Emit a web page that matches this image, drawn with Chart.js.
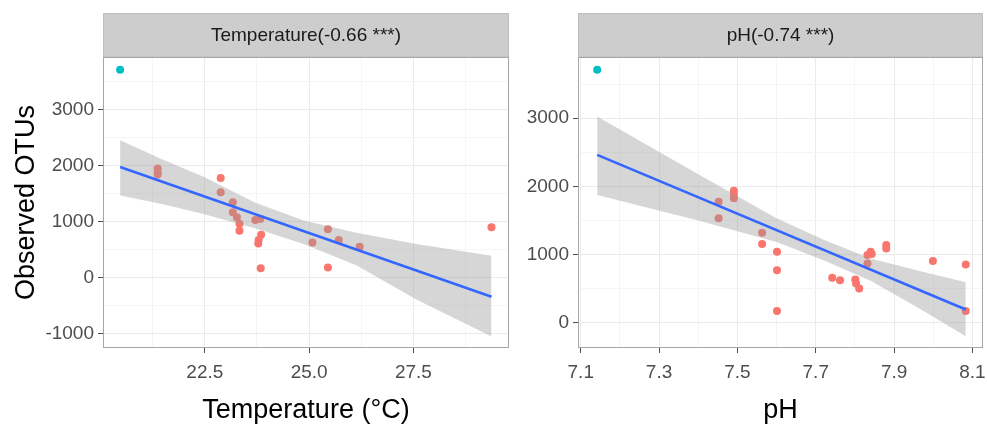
<!DOCTYPE html>
<html>
<head>
<meta charset="utf-8">
<script src="https://cdn.jsdelivr.net/npm/chart.js@4.4.1/dist/chart.umd.min.js"></script>
<style>
  body { margin: 0; background: #fff; }
  .panel { position: absolute; top: 0; height: 433px; }
  #leftBox { left: 0; width: 513px; }
  #rightBox { left: 500px; width: 487px; }
</style>
</head>
<body>
<div class="panel" id="leftBox"><canvas id="tempChart"></canvas></div>
<div class="panel" id="rightBox"><canvas id="phChart"></canvas></div>
<script>
// temperature panel
var tempX = [21.37, 21.37, 21.37, 22.88, 22.88, 23.17, 23.17, 23.27, 23.33, 23.33, 23.71, 23.83, 23.85, 23.78, 23.79, 23.84, 25.08, 25.45, 25.45, 25.71, 26.21, 29.37];
var tempOTU = [1943, 1880, 1840, 1774, 1523, 1344, 1165, 1075, 962, 837, 1028, 1046, 765, 609, 670, 168, 627, 861, 179, 670, 550, 896];
var tempOutX = [20.47];
var tempOutOTU = [3704];
var tempFitX = [20.47, 29.37];
var tempFitY = [1971, -341];
var tempBandX = [20.47, 21.5, 22.47, 23.7, 24.87, 26.13, 27.57, 29.37];
var tempBandLow = [1464, 1310, 1136, 880, 598, 220, -390, -1050];
var tempBandHigh = [2450, 2100, 1799, 1340, 1016, 800, 598, 389];
var tempXMajor = [22.5, 25.0, 27.5];
var tempXMinor = [21.25, 23.75, 26.25, 28.75];
var tempYMajor = [-1000, 0, 1000, 2000, 3000];
var tempYMinor = [-500, 500, 1500, 2500, 3500];

// pH panel
var phX = [7.452, 7.452, 7.491, 7.491, 7.491, 7.563, 7.563, 7.601, 7.601, 7.601, 7.742, 7.762, 7.801, 7.803, 7.811, 7.832, 7.832, 7.840, 7.843, 7.880, 7.880, 7.999, 8.083, 8.083];
var phOTU = [1777, 1533, 1938, 1880, 1827, 1322, 1156, 1043, 774, 176, 661, 627, 637, 578, 505, 994, 872, 1043, 1010, 1141, 1092, 906, 857, 176];
var phOutX = [7.142];
var phOutOTU = [3711];
var phFitX = [7.142, 8.083];
var phFitY = [2463, 197];
var phBandX = [7.142, 7.40, 7.60, 7.72, 7.84, 7.96, 8.083];
var phBandLow = [1875, 1500, 1185, 920, 620, 225, -195];
var phBandHigh = [3025, 2180, 1535, 1220, 945, 770, 595];
var phXMajor = [7.1, 7.3, 7.5, 7.7, 7.9, 8.1];
var phXMinor = [7.2, 7.4, 7.6, 7.8, 8.0];
var phYMajor = [0, 1000, 2000, 3000];
var phYMinor = [500, 1500, 2500, 3500];

var fontFamily = "'Liberation Sans', Arial, sans-serif";

function pts(xs, ys) {
    return xs.map(function (x, i) { return { x: x, y: ys[i] }; });
}

// gray strip on top of each panel and the panel border
var panelDeco = {
    id: 'panelDeco',
    beforeDraw: function (chart, args, opts) {
        var a = chart.chartArea;
        var ctx = chart.ctx;
        ctx.save();
        ctx.fillStyle = '#cdcdcd';
        ctx.fillRect(a.left, 13.5, a.right - a.left, a.top - 13.5);
        ctx.strokeStyle = '#bdbdbd';
        ctx.lineWidth = 1;
        ctx.strokeRect(a.left + 0.5, 13.5, a.right - a.left - 1, a.top - 13.5);
        ctx.fillStyle = '#1a1a1a';
        ctx.font = '19px ' + fontFamily;
        ctx.textAlign = 'center';
        ctx.textBaseline = 'middle';
        ctx.fillText(opts.label, (a.left + a.right) / 2, (13.5 + a.top) / 2 + 1);
        ctx.restore();
    },
    afterDatasetsDraw: function (chart) {
        var a = chart.chartArea;
        var ctx = chart.ctx;
        ctx.save();
        ctx.strokeStyle = '#a6a6a6';
        ctx.lineWidth = 1;
        ctx.strokeRect(a.left + 0.5, a.top + 0.5, a.right - a.left - 1, a.bottom - a.top - 1);
        ctx.restore();
    }
};

function makeAxis(min, max, major, minor, decimals, title, isX, fitSize) {
    var all = major.concat(minor).sort(function (p, q) { return p - q; });
    var isMajor = function (v) { return major.some(function (m) { return Math.abs(m - v) < 1e-9; }); };
    return {
        type: 'linear',
        min: min,
        max: max,
        afterBuildTicks: function (scale) {
            scale.ticks = all.map(function (v) { return { value: v }; });
        },
        afterFit: function (scale) {
            if (isX) {
                scale.height = fitSize;
                scale.paddingLeft = 0;
                scale.paddingRight = 0;
            } else {
                scale.width = fitSize;
                scale.paddingTop = 0;
                scale.paddingBottom = 0;
            }
        },
        border: { display: false },
        grid: {
            color: function (c) { return isMajor(c.tick.value) ? '#ebebeb' : '#f5f5f5'; },
            tickColor: function (c) { return isMajor(c.tick.value) ? '#4d4d4d' : 'rgba(0,0,0,0)'; },
            tickLength: 5,
            lineWidth: 1
        },
        ticks: {
            autoSkip: false,
            maxRotation: 0,
            color: '#4d4d4d',
            font: { family: fontFamily, size: 19 },
            padding: isX ? 8 : 4,
            callback: function (v) { return isMajor(v) ? v.toFixed(decimals) : ''; }
        },
        title: {
            display: !!title,
            text: title,
            color: '#000',
            font: { family: fontFamily, size: 27 },
            padding: isX ? { top: 0, bottom: 6 } : { top: 10, bottom: 0 }
        }
    };
}

function drawPanel(canvasId, label, d, xAxis, yAxis, padRight) {
    return new Chart(document.getElementById(canvasId), {
        type: 'scatter',
        data: {
            datasets: [{
                data: pts(d.fitX, d.fitY),
                showLine: true,
                borderColor: '#3366ff',
                borderWidth: 2.5,
                pointRadius: 0,
                fill: false,
                order: 0
            }, {
                data: pts(d.bandX, d.bandLow),
                showLine: true,
                borderWidth: 0,
                borderColor: 'rgba(0,0,0,0)',
                pointRadius: 0,
                fill: false,
                order: 1
            }, {
                data: pts(d.bandX, d.bandHigh),
                showLine: true,
                borderWidth: 0,
                borderColor: 'rgba(0,0,0,0)',
                backgroundColor: 'rgba(153,153,153,0.4)',
                pointRadius: 0,
                fill: '-1',
                order: 1
            }, {
                data: pts(d.x, d.y),
                pointRadius: 4,
                pointBorderWidth: 0,
                backgroundColor: '#f8766d',
                order: 2
            }, {
                data: pts(d.outX, d.outY),
                pointRadius: 4,
                pointBorderWidth: 0,
                backgroundColor: '#00bfc4',
                order: 2
            }]
        },
        options: {
            responsive: true,
            maintainAspectRatio: false,
            animation: false,
            layout: { padding: { top: 57, right: padRight, bottom: 0, left: 0 } },
            plugins: {
                legend: { display: false },
                tooltip: { enabled: false },
                panelDeco: { label: label }
            },
            scales: { x: xAxis, y: yAxis }
        },
        plugins: [panelDeco]
    });
}

drawPanel('tempChart', 'Temperature(-0.66 ***)', {
    x: tempX, y: tempOTU, outX: tempOutX, outY: tempOutOTU,
    fitX: tempFitX, fitY: tempFitY,
    bandX: tempBandX, bandLow: tempBandLow, bandHigh: tempBandHigh
},
    makeAxis(20.06, 29.79, tempXMajor, tempXMinor, 1, 'Temperature (°C)', true, 85),
    makeAxis(-1254, 3932, tempYMajor, tempYMinor, 0, 'Observed OTUs', false, 103),
    3);

drawPanel('phChart', 'pH(-0.74 ***)', {
    x: phX, y: phOTU, outX: phOutX, outY: phOutOTU,
    fitX: phFitX, fitY: phFitY,
    bandX: phBandX, bandLow: phBandLow, bandHigh: phBandHigh
},
    makeAxis(7.093, 8.127, phXMajor, phXMinor, 1, 'pH', true, 85),
    makeAxis(-367, 3897, phYMajor, phYMinor, 0, '', false, 78),
    4);
</script>
</body>
</html>
